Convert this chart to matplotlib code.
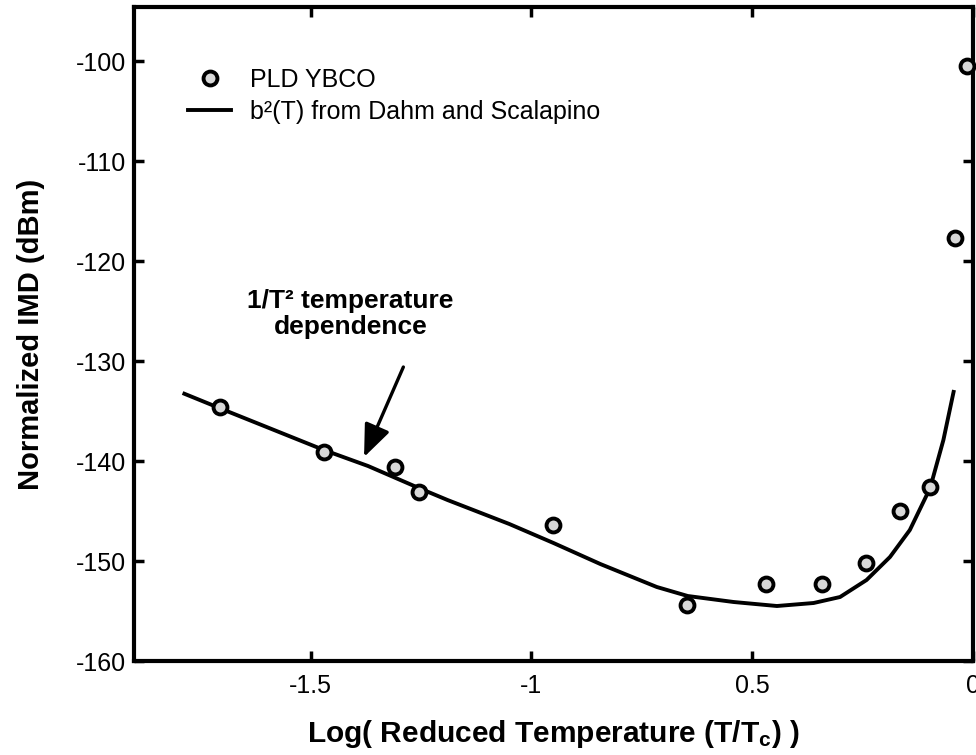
import matplotlib
matplotlib.use("Agg")
import matplotlib.pyplot as plt
from matplotlib.lines import Line2D

plt.rcParams['font.family'] = ['Liberation Sans', 'DejaVu Sans']
plt.rcParams['mathtext.fontset'] = 'custom'
plt.rcParams['mathtext.rm'] = 'Liberation Sans'
plt.rcParams['mathtext.bf'] = 'Liberation Sans:bold'
plt.rcParams['mathtext.it'] = 'Liberation Sans:italic'

# measured data (PLD YBCO)
data_x = [-1.706, -1.470, -1.309, -1.255, -0.95, -0.647, -0.469, -0.342, -0.243, -0.165, -0.097, -0.041, -0.014]
data_y = [-134.6, -139.1, -140.6, -143.1, -146.4, -154.4, -152.3, -152.3, -150.2, -145.0, -142.6, -117.7, -100.5]

# b^2(T) theory curve
curve_x = [-1.79, -1.69, -1.47, -1.37, -1.255, -1.19, -1.05, -0.95, -0.844, -0.716, -0.646,
           -0.542, -0.444, -0.361, -0.301, -0.241, -0.188, -0.143, -0.097, -0.067, -0.043]
curve_y = [-133.2, -135.0, -138.9, -140.5, -142.7, -143.9, -146.3, -148.2, -150.3, -152.6, -153.5,
           -154.1, -154.5, -154.2, -153.6, -151.9, -149.6, -146.9, -142.7, -137.9, -132.9]

xticks = [-1.5, -1.0, -0.5, 0.0]
xticklabels = ['-1.5', '-1', '0.5', '0']
yticks = [-160, -150, -140, -130, -120, -110, -100]
yticklabels = ['-160', '-150', '-140', '-130', '-120', '-110', '-100']

fig = plt.figure(figsize=(9.76, 7.55), dpi=100)
ax = fig.add_axes([0.1373, 0.1245, 0.9969 - 0.1373, 0.9907 - 0.1245])

ax.plot(curve_x, curve_y, color='black', lw=2.8, solid_capstyle='butt', zorder=2)
ax.plot(data_x, data_y, linestyle='none', marker='o', markersize=10,
        markerfacecolor='#d8d8d8', markeredgecolor='black', markeredgewidth=2.8,
        clip_on=False, zorder=3)

ax.set_xlim(-1.9, 0.0)
ax.set_ylim(-160, -94.6)
ax.set_xticks(xticks)
ax.set_xticklabels(xticklabels)
ax.set_yticks(yticks)
ax.set_yticklabels(yticklabels)

ax.tick_params(direction='in', length=7, width=2.5, top=True, right=True,
               labelsize=18, pad=6)
ax.tick_params(axis='x', pad=9)
for s in ax.spines.values():
    s.set_linewidth(3.0)

ax.set_xlabel('Log( Reduced Temperature (T/T$_{\\mathbf{c}}$) )', fontsize=21.5,
              fontweight='bold', labelpad=15)
ax.set_ylabel('Normalized IMD (dBm)', fontsize=21, fontweight='bold', labelpad=22)

# annotation
ax.text(-1.41, -125.3, '1/T² temperature\ndependence', fontsize=19, fontweight='bold',
        ha='center', va='center', multialignment='center', linespacing=1.15)
ax.annotate('', xy=(-1.379, -139.6), xytext=(-1.29, -130.6),
            arrowprops=dict(arrowstyle='-|>,head_length=1.1,head_width=0.45',
                            lw=2.4, color='black', mutation_scale=18,
                            shrinkA=0, shrinkB=0))

handles = [
    Line2D([], [], linestyle='none', marker='o', markersize=10,
           markerfacecolor='#d8d8d8', markeredgecolor='black', markeredgewidth=2.8),
    Line2D([], [], color='black', lw=2.8),
]
labels = ['PLD YBCO', 'b²(T) from Dahm and Scalapino']
ax.legend(handles, labels, loc='upper left', bbox_to_anchor=(0.053, 0.922),
          frameon=False, fontsize=18, handlelength=1.7, handletextpad=0.75,
          labelspacing=0.3, borderaxespad=0)

fig.savefig('out.png', dpi=100)
